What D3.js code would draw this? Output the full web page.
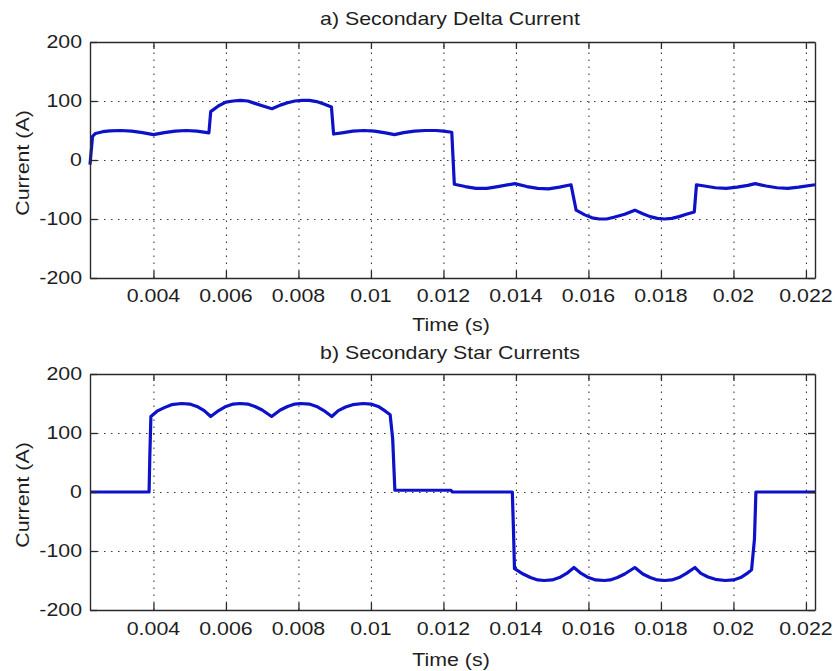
<!DOCTYPE html>
<html>
<head>
<meta charset="utf-8">
<script src="https://cdn.jsdelivr.net/npm/d3@7"></script>
<style>
  html, body { margin: 0; padding: 0; background: #ffffff; }
  svg { display: block; }
</style>
</head>
<body>
<svg id="chart" width="836" height="671"></svg>
<script>
// ---------------- DATA ----------------
const xTickLabels = ["0.004","0.006","0.008","0.01","0.012","0.014","0.016","0.018","0.02","0.022"];
const yTickLabels = ["-200","-100","0","100","200"];
const timeDomain = [0.00225, 0.02225];
const currentDomain = [-200, 200];

const titles = ["a) Secondary Delta Current", "b) Secondary Star Currents"];
const xLabel = "Time (s)";
const yLabel = "Current (A)";

// a) Secondary delta current: time (s)
const deltaTime = [
  0.00225, 0.00232, 0.0024, 0.0026, 0.0028, 0.0031, 0.0034, 0.0037, 0.0040, 0.0043, 0.0046, 0.0049, 0.0052, 0.00553,
  0.00558, 0.0058, 0.0060, 0.0062, 0.0064, 0.0066, 0.0068, 0.0070, 0.00727, 0.0075, 0.0077, 0.0079, 0.0081, 0.0083, 0.0085, 0.0087, 0.00891,
  0.00897, 0.0092, 0.0095, 0.0098, 0.0101, 0.0104, 0.01065, 0.0109, 0.0112, 0.0115, 0.0118, 0.0120, 0.01223,
  0.01230, 0.0126, 0.0129, 0.0132, 0.0135, 0.01397, 0.0143, 0.0146, 0.0149, 0.0152, 0.01552,
  0.01566, 0.0159, 0.0161, 0.0163, 0.0165, 0.0167, 0.0170, 0.01728, 0.0175, 0.0177, 0.0179, 0.0181, 0.0183, 0.0185, 0.0187, 0.01892,
  0.01898, 0.0192, 0.0195, 0.0198, 0.0201, 0.0204, 0.0206, 0.0209, 0.0212, 0.0215, 0.0218, 0.02225
];
// a) Secondary delta current: current (A)
const deltaCurrent = [
  -8, 40, 45, 48, 49.5, 50, 49, 46.5, 43, 46.5, 49, 50, 49, 46,
  82, 92, 98, 100, 101, 100, 96, 92, 87, 93, 97, 100, 101, 101, 99, 95, 90,
  44, 46, 49, 50, 49, 46, 43, 46.5, 49, 50, 50, 49, 47,
  -41, -45, -48, -48, -45, -40, -45, -48, -49, -46, -42,
  -85, -93, -98, -100, -100, -97, -92, -85, -91, -96, -99, -100, -99, -96, -92, -88,
  -42, -44, -47, -48, -46, -43, -40, -44, -47, -48, -46, -42
];

// b) Secondary star currents: time (s)
const starTime = [
  0.00225, 0.00388, 0.00390, 0.00393,
  0.0041, 0.0043, 0.0045, 0.00478, 0.0050, 0.0052, 0.0054, 0.00558,
  0.0058, 0.0060, 0.0062, 0.00639, 0.0066, 0.0068, 0.0070, 0.00726,
  0.0075, 0.0077, 0.0079, 0.00806, 0.0083, 0.0085, 0.0087, 0.00892,
  0.0091, 0.0093, 0.0095, 0.00979, 0.0100, 0.0102, 0.0104, 0.01053,
  0.01060, 0.01066, 0.0122, 0.01225, 0.01390, 0.01393, 0.01396,
  0.0142, 0.0144, 0.0146, 0.01478, 0.0150, 0.0152, 0.0154, 0.0156,
  0.0158, 0.0160, 0.0162, 0.01644, 0.0166, 0.0168, 0.0170, 0.01728,
  0.0175, 0.0177, 0.0179, 0.01811, 0.0183, 0.0185, 0.0187, 0.01894,
  0.0191, 0.0193, 0.0195, 0.01977, 0.0200, 0.0202, 0.0204, 0.0205,
  0.02058, 0.02062, 0.02225
];
// b) Secondary star currents: current (A)
const starCurrent = [
  0, 0, 60, 128,
  137, 143, 148, 150, 149, 145, 138, 128,
  138, 145, 149, 150, 149, 145, 139, 128,
  139, 145, 149, 150, 149, 145, 138, 128,
  138, 144, 148, 150, 149, 145, 137, 131,
  90, 3, 3, 0, 0, -60, -130,
  -139, -145, -149, -150, -149, -145, -138, -128,
  -138, -145, -149, -150, -149, -145, -139, -128,
  -139, -145, -149, -150, -149, -145, -138, -128,
  -138, -144, -148, -150, -149, -145, -137, -132,
  -80, 0, 0
];

// ---------------- LAYOUT ----------------
const svg = d3.select("#chart");
const plotLeft = 90, plotRight = 815;
const panels = [
  { top: 42, bottom: 278, title: titles[0], titleY: 25, tickLabelY: 302, xLabelY: 331, time: deltaTime, current: deltaCurrent },
  { top: 374, bottom: 610, title: titles[1], titleY: 359, tickLabelY: 635, xLabelY: 666, time: starTime, current: starCurrent }
];

const FONT = "'Liberation Sans', Arial, Helvetica, sans-serif";
const FS = 17.5, SX = 1.22;
const textColor = "#1e1e1e";

function stretchedText(parent, x, y, str, anchor, extra) {
  return parent.append("text")
    .attr("transform", `translate(${x},${y})${extra || ""} scale(${SX},1)`)
    .attr("text-anchor", anchor)
    .attr("font-family", FONT)
    .attr("font-size", FS)
    .attr("fill", textColor)
    .text(str);
}

const xTickVals = xTickLabels.map(Number);
const yTickVals = yTickLabels.map(Number);

const x = d3.scaleLinear().domain(timeDomain).range([plotLeft, plotRight]);

panels.forEach(p => {
  const y = d3.scaleLinear().domain(currentDomain).range([p.bottom, p.top]);
  const h = p.bottom - p.top, w = plotRight - plotLeft;
  const g = svg.append("g");

  // grid (dotted)
  const gx = g.append("g").attr("transform", `translate(0,${p.bottom})`)
    .call(d3.axisBottom(x).tickValues(xTickVals).tickSize(-h).tickFormat(""));
  const gy = g.append("g").attr("transform", `translate(${plotLeft},0)`)
    .call(d3.axisLeft(y).tickValues(yTickVals.filter(v => v > currentDomain[0] && v < currentDomain[1])).tickSize(-w).tickFormat(""));
  [gx, gy].forEach(a => {
    a.select(".domain").remove();
    a.selectAll(".tick line").attr("stroke", "#3a3a3a").attr("stroke-width", 1.1).attr("stroke-dasharray", "1.5,5.5");
  });

  // data line
  const pts = p.time.map((t, i) => [t, p.current[i]]);
  g.append("path")
    .datum(pts)
    .attr("fill", "none")
    .attr("stroke", "#0d12c8")
    .attr("stroke-width", 3.2)
    .attr("stroke-linejoin", "round")
    .attr("d", d3.line().x(d => x(d[0])).y(d => y(d[1])));

  // box axes with inward ticks
  const axB = g.append("g").attr("transform", `translate(0,${p.bottom})`)
    .call(d3.axisBottom(x).tickValues(xTickVals).tickSizeInner(-7).tickSizeOuter(0).tickFormat(""));
  const axT = g.append("g").attr("transform", `translate(0,${p.top})`)
    .call(d3.axisTop(x).tickValues(xTickVals).tickSizeInner(-7).tickSizeOuter(0).tickFormat(""));
  const axL = g.append("g").attr("transform", `translate(${plotLeft},0)`)
    .call(d3.axisLeft(y).tickValues(yTickVals).tickSizeInner(-7).tickSizeOuter(0).tickFormat(""));
  const axR = g.append("g").attr("transform", `translate(${plotRight},0)`)
    .call(d3.axisRight(y).tickValues(yTickVals).tickSizeInner(-7).tickSizeOuter(0).tickFormat(""));
  [axB, axT, axL, axR].forEach(a => {
    a.select(".domain").attr("stroke", "#2a2a2a").attr("stroke-width", 1.4);
    a.selectAll(".tick line").attr("stroke", "#2a2a2a").attr("stroke-width", 1.3);
  });

  // tick labels
  xTickVals.forEach((v, i) => stretchedText(g, x(v), p.tickLabelY, xTickLabels[i], "middle"));
  yTickVals.forEach((v, i) => stretchedText(g, 82, y(v) + 6, yTickLabels[i], "end"));

  // title, axis labels
  stretchedText(g, 450, p.titleY, p.title, "middle");
  stretchedText(g, 451, p.xLabelY, xLabel, "middle");
  stretchedText(g, 29, (p.top + p.bottom) / 2 + 3, yLabel, "middle", " rotate(-90)");
});
</script>
</body>
</html>
